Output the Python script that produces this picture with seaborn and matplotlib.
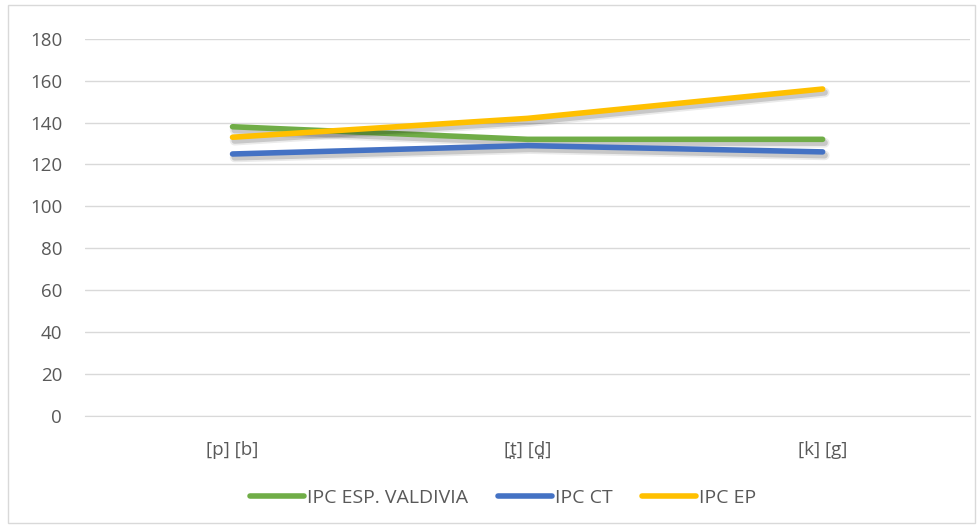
import pandas as pd
import matplotlib
matplotlib.use("Agg")
import matplotlib.pyplot as plt
import matplotlib.patheffects as pe
import seaborn as sns

# Data
categories = ["[p] [b]", "[t̪] [d̪]", "[k] [g]"]
ipc_valdivia = [138, 132, 132]
ipc_ct = [125, 129, 126]
ipc_ep = [133, 142, 156]
series_names = ["IPC ESP. VALDIVIA", "IPC CT", "IPC EP"]
colors = ["#70AD47", "#4472C4", "#FFC000"]

df = pd.DataFrame({
    "x": list(range(len(categories))) * 3,
    "value": ipc_valdivia + ipc_ct + ipc_ep,
    "serie": [s for s in series_names for _ in categories],
})

sns.set_style("white")
plt.rcParams["font.family"] = ["Open Sans", "DejaVu Sans"]

fig = plt.figure(figsize=(9.77, 5.31), dpi=100)
ax = fig.add_axes([0.087, 0.2166, 0.906, 0.7105])

sns.lineplot(data=df, x="x", y="value", hue="serie", hue_order=series_names,
             palette=colors, linewidth=4, ax=ax, legend=True,
             solid_capstyle="round")

# soft drop shadow like the original
for line in ax.get_lines():
    line.set_path_effects([
        pe.SimpleLineShadow(offset=(1.5, -2.5), shadow_color="black", alpha=0.08, linewidth=7),
        pe.SimpleLineShadow(offset=(1.5, -2.5), shadow_color="black", alpha=0.15, linewidth=4.5),
        pe.Normal()])

ax.set_xlim(-0.5, 2.5)
ax.set_ylim(0, 180)
ax.set_yticks(range(0, 181, 20))
ax.set_xticks(range(len(categories)))
ax.set_xticklabels(categories)
ax.yaxis.grid(True, color="#D9D9D9", linewidth=1)
ax.set_axisbelow(True)
for s in ["top", "right", "left"]:
    ax.spines[s].set_visible(False)
ax.spines["bottom"].set_color("#D9D9D9")
ax.tick_params(axis="both", length=0, labelsize=13.5, labelcolor="#595959")
ax.tick_params(axis="x", pad=18)
ax.tick_params(axis="y", pad=16.5)
ax.set_xlabel("")
ax.set_ylabel("")

handles, labels = ax.get_legend_handles_labels()
for h in handles:
    h.set_path_effects([])
ax.legend(handles, labels, loc="center", bbox_to_anchor=(0.515, 0.062),
          bbox_transform=fig.transFigure, ncol=3, frameon=False,
          fontsize=14, labelcolor="#595959", handlelength=2.8,
          handletextpad=0.15, columnspacing=1.5)

# chart area border
fig.add_artist(plt.Rectangle((0.008, 0.015), 0.99, 0.975, transform=fig.transFigure,
                             fill=False, edgecolor="#D9D9D9", linewidth=1))

fig.savefig("out.png", dpi=100)
